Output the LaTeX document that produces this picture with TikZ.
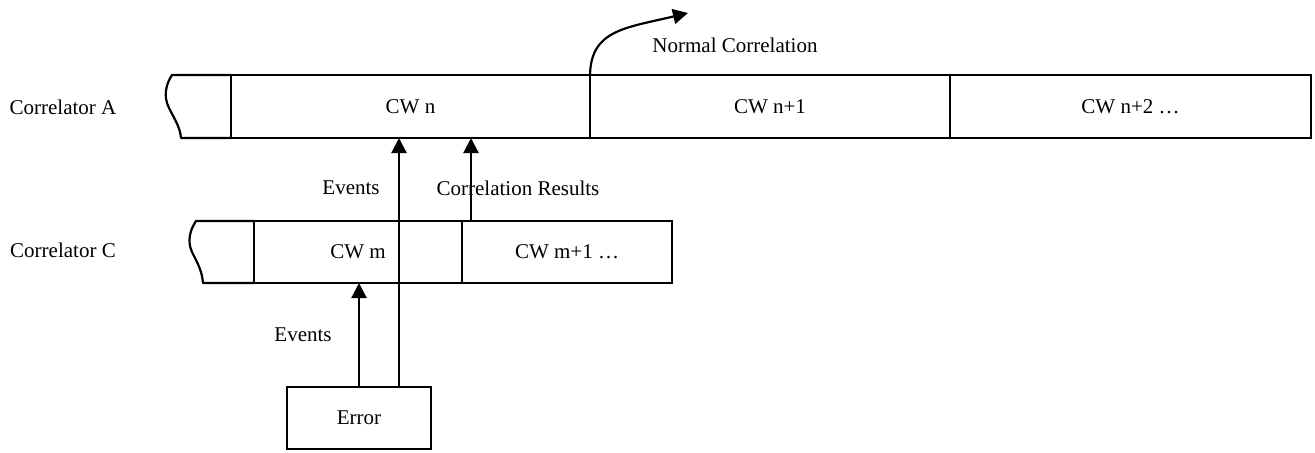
\documentclass[tikz,border=0pt]{standalone}
\usepackage{fontspec}
\setmainfont{Liberation Serif}
\usetikzlibrary{arrows.meta}
\begin{document}
\begin{tikzpicture}[x=0.5pt, y=-0.5pt,
  every node/.style={font=\fontsize{10.5pt}{12pt}\selectfont},
  cell/.style={draw, line width=1.1pt, outer sep=0pt, inner sep=0pt},
  edge/.style={line width=1.1pt, line join=round},
  lbl/.style={inner sep=0pt},
  arr/.style={line width=1.1pt, -{Triangle[length=7.5pt, width=7.5pt]}}]
\useasboundingbox (0,0) rectangle (1315,452);

% Correlator A row
\node[lbl] (la) at (63,107) {Correlator A};
\draw[edge] (231,75) -- (172,75) .. controls (166,84) and (163,96) .. (169,108)
  .. controls (175,120) and (180,127) .. (181,138) -- (231,138);
\node[cell, minimum width=179.5pt, minimum height=31.5pt] (cwn)  at (410.5,106.5) {CW n};
\node[cell, minimum width=180pt,   minimum height=31.5pt] (cwn1) at (770,106.5)   {CW n+1};
\node[cell, minimum width=180.5pt, minimum height=31.5pt] (cwn2) at (1130.5,106.5) {CW n+2 \dots};

% Correlator C row
\node[lbl] (lc) at (63,250) {Correlator C};
\draw[edge] (254,221) -- (196,221) .. controls (190,230) and (187,241) .. (192,252)
  .. controls (198,264) and (202,271) .. (203,283) -- (254,283);
\node[cell, minimum width=104pt, minimum height=31pt] (cwm)  at (358,252) {CW m};
\node[cell, minimum width=105pt, minimum height=31pt] (cwm1) at (567,252) {CW m+1 \dots};

% Error source
\node[cell, minimum width=72pt, minimum height=31pt] (err) at (359,418) {Error};

% Event and result flows
\coordinate (e2) at (399,387);
\coordinate (cr) at (471,221);
\draw[arr] (err.north) -- (err.north |- cwm.south);
\draw[arr] (e2) -- (e2 |- cwn.south);
\draw[arr] (cr) -- (cr |- cwn.south);
\draw[arr] (cwn.north east) .. controls (591,30) and (625,28) .. (688,13);

% Flow labels
\node[lbl] (ev1) at (351,188) {Events};
\node[lbl] (res) at (518,188) {Correlation Results};
\node[lbl] (ev2) at (303,335) {Events};
\node[lbl] (nc)  at (735,45)  {Normal Correlation};
\end{tikzpicture}
\end{document}
